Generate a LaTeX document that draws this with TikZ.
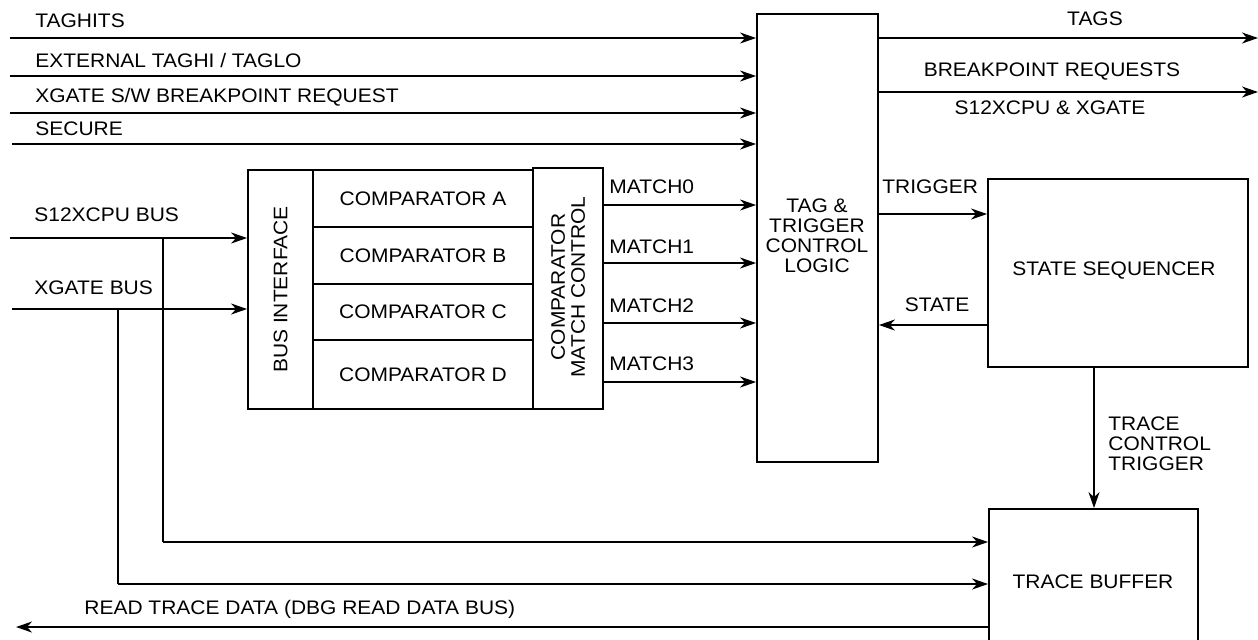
\documentclass[tikz,border=0pt]{standalone}
\usepackage{fontspec}
\setmainfont{Liberation Sans}[FakeStretch=1.07]
\usetikzlibrary{arrows.meta}
\begin{document}
\begin{tikzpicture}[x=0.5pt,y=-0.5pt,
  every node/.style={font=\fontsize{9.8pt}{10pt}\selectfont, inner sep=0pt},
  box/.style={draw, line width=0.9pt, rectangle},
  wire/.style={line width=0.9pt},
  arr/.style={line width=0.9pt, -{Stealth[length=8pt,width=5.5pt,inset=2.5pt]}},
  lbl/.style={anchor=west},
  ml/.style={align=center}]
\clip (0,0) rectangle (1258,639);
\fill[white] (0,0) rectangle (1258,639);
% boxes
\node[box, minimum width=60.5pt, minimum height=224pt] (tag) at (817.5,238) {};
\node[ml] (tagtxt) at (817,236) {TAG \&\\TRIGGER\\CONTROL\\LOGIC};
\node[box, minimum width=32.5pt, minimum height=119.5pt] (bif) at (280.5,289.5) {};
\node[rotate=90] (biftxt) at (280.5,289.5) {BUS INTERFACE};
\node[box, minimum width=110pt, minimum height=28.5pt] (cA) at (423,198.5) {COMPARATOR A};
\node[box, minimum width=110pt, minimum height=28.5pt] (cB) at (423,255.5) {COMPARATOR B};
\node[box, minimum width=110pt, minimum height=28pt] (cC) at (423,312) {COMPARATOR C};
\node[box, minimum width=110pt, minimum height=34.5pt] (cD) at (423,374.5) {COMPARATOR D};
\node[box, minimum width=35pt, minimum height=120.5pt] (cmc) at (568,288.5) {};
\node[rotate=90, ml] (cmctxt) at (568,287) {COMPARATOR\\MATCH CONTROL};
\node[box, minimum width=130pt, minimum height=94pt] (ss) at (1118,273) {};
\node (sstxt) at (1114,270) {STATE SEQUENCER};
\node[box, minimum width=104.5pt, minimum height=95.5pt] (tb) at (1093.5,604.5) {};
\node (tbtxt) at (1093,582) {TRACE BUFFER};
% inputs to tag logic
\coordinate (i1) at (10,38);
\coordinate (i2) at (10,76);
\coordinate (i3) at (10,113);
\coordinate (i4) at (12,144);
\draw[arr] (i1) -- (i1 -| tag.west);
\draw[arr] (i2) -- (i2 -| tag.west);
\draw[arr] (i3) -- (i3 -| tag.west);
\draw[arr] (i4) -- (i4 -| tag.west);
\node[lbl] (l1) at (35,21) {TAGHITS};
\node[lbl] (l2) at (35,60) {EXTERNAL TAGHI / TAGLO};
\node[lbl] (l3) at (35,97) {XGATE S/W BREAKPOINT REQUEST};
\node[lbl] (l4) at (35,129) {SECURE};
% outputs
\coordinate (o1) at (1258,38);
\coordinate (o2) at (1258,92);
\draw[arr] (o1 -| tag.east) -- (o1);
\draw[arr] (o2 -| tag.east) -- (o2);
\node (ltags) at (1095,19) {TAGS};
\node (lbrk) at (1052,72) {BREAKPOINT REQUESTS};
\node (lbrk2) at (1050,108) {S12XCPU \& XGATE};
% buses
\coordinate (b1) at (10,238);
\coordinate (b2) at (12,309);
\draw[arr] (b1) -- (b1 -| bif.west);
\draw[arr] (b2) -- (b2 -| bif.west);
\node[lbl] (lb1) at (34,215) {S12XCPU BUS};
\node[lbl] (lb2) at (34,288) {XGATE BUS};
\coordinate (t1) at (163,238);
\coordinate (t2) at (118,309);
\coordinate (t1b) at (163,542);
\coordinate (t2b) at (118,584);
\draw[wire] (t1) -- (t1b);
\draw[arr] (t1b) -- (t1b -| tb.west);
\draw[wire] (t2) -- (t2b);
\draw[arr] (t2b) -- (t2b -| tb.west);
% matches
\coordinate (m0) at (603,205);
\coordinate (m1) at (603,263);
\coordinate (m2) at (603,323);
\coordinate (m3) at (603,382);
\draw[arr] (m0 -| cmc.east) -- (m0 -| tag.west);
\draw[arr] (m1 -| cmc.east) -- (m1 -| tag.west);
\draw[arr] (m2 -| cmc.east) -- (m2 -| tag.west);
\draw[arr] (m3 -| cmc.east) -- (m3 -| tag.west);
\node[lbl] (lm0) at (609,187) {MATCH0};
\node[lbl] (lm1) at (609,247) {MATCH1};
\node[lbl] (lm2) at (609,306) {MATCH2};
\node[lbl] (lm3) at (609,364) {MATCH3};
% trigger / state
\coordinate (trg) at (900,214);
\coordinate (stt) at (900,325);
\draw[arr] (trg -| tag.east) -- (trg -| ss.west);
\draw[arr] (stt -| ss.west) -- (stt -| tag.east);
\node[lbl] (ltrg) at (882,187) {TRIGGER};
\node (lstt) at (937,305) {STATE};
% trace control
\coordinate (tc) at (1094,400);
\draw[arr] (tc |- ss.south) -- (tc |- tb.north);
\node[anchor=north west, align=left] (ltc) at (1108,416) {TRACE\\CONTROL\\TRIGGER};
% read trace data
\coordinate (rd) at (16,627);
\draw[arr] (rd -| tb.west) -- (rd);
\node[lbl] (lrd) at (84,609) {READ TRACE DATA (DBG READ DATA BUS)};
\end{tikzpicture}
\end{document}
